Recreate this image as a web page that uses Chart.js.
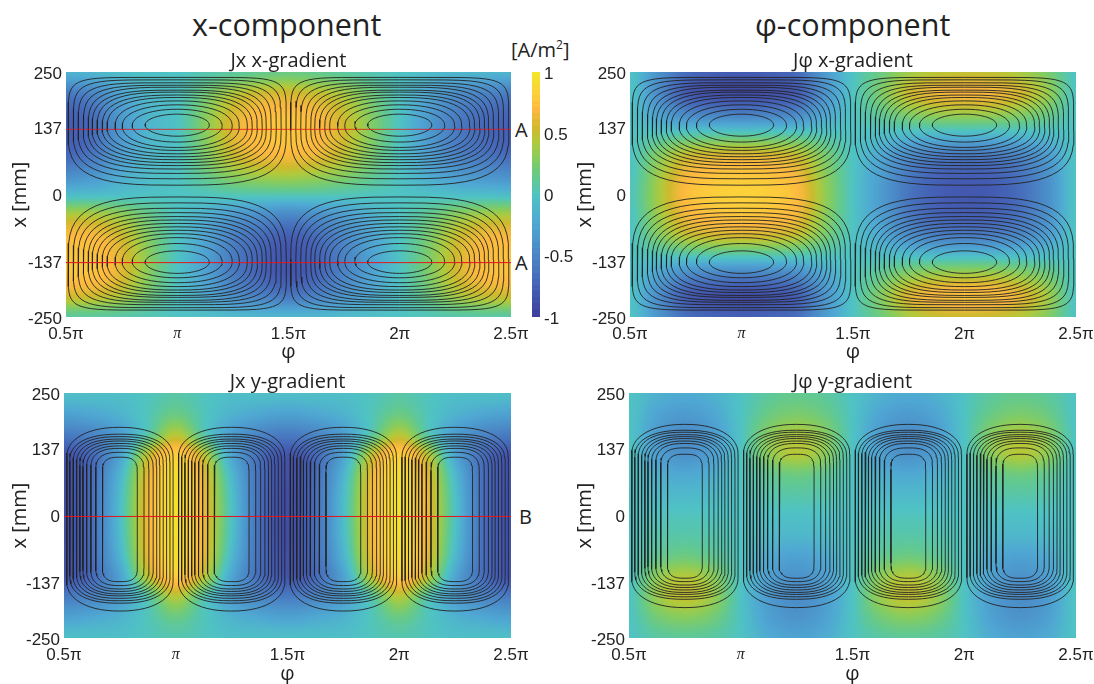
<!DOCTYPE html>
<html><head><meta charset="utf-8">
<script src="https://cdn.jsdelivr.net/npm/chart.js@4"></script>
<style>
html,body{margin:0;padding:0;background:#fff;width:1094px;height:684px;overflow:hidden}
canvas{position:absolute}
.t{position:absolute;font-family:"Open Sans",sans-serif;color:#222;white-space:nowrap;line-height:1}
sup{font-size:.6em;line-height:0}
</style></head><body>
<div class="t" style="left:192px;top:9px;font-size:30.5px">x-component</div>
<div class="t" style="left:755px;top:9px;font-size:30.5px">φ-component</div>
<div class="t" style="left:511px;top:40px;font-size:20px">[A/m<sup>2</sup>]</div>
<div class="t" style="left:515px;top:120px;font-size:20px">A</div>
<div class="t" style="left:515px;top:253px;font-size:20px">A</div>
<div class="t" style="left:519px;top:507px;font-size:20px">B</div>
<canvas id="c1"></canvas><canvas id="c2"></canvas><canvas id="c3"></canvas><canvas id="c4"></canvas><canvas id="cb"></canvas>
<script>
// ---- tick labels / nodes (x in units of pi, y in mm)
const phiTicks = [0.5, 1, 1.5, 2, 2.5];
const yTicks = [250, 137, 0, -137, -250];
const barTicks = [1, 0.5, 0, -0.5, -1];
const xNodes = [0.5,0.625,0.75,0.875,1,1.125,1.25,1.375,1.5,1.625,1.75,1.875,2,2.125,2.25,2.375,2.5];
const yNodes = [250,208.3,166.7,125,83.3,41.7,0,-41.7,-83.3,-125,-166.7,-208.3,-250];

// ---- field values [A/m^2], rows top (x=250) to bottom (x=-250), columns 0.5pi to 2.5pi
const jxXGrad = [
[-.12,-.1,-.05,-.02,0,.05,.1,.15,.18,.15,.1,.05,0,-.05,-.1,-.1,-.12],
[-.55,-.46,-.22,-.07,0,.21,.42,.53,.55,.5,.39,.2,0,-.21,-.39,-.48,-.53],
[-.74,-.62,-.3,-.1,0,.29,.57,.71,.74,.68,.52,.27,0,-.29,-.52,-.65,-.71],
[-.78,-.65,-.32,-.1,0,.3,.6,.75,.78,.72,.55,.28,0,-.3,-.55,-.68,-.75],
[-.7,-.59,-.29,-.09,0,.27,.54,.68,.7,.65,.5,.25,0,-.27,-.5,-.61,-.68],
[-.44,-.36,-.18,-.06,0,.17,.34,.42,.44,.4,.31,.16,0,-.17,-.31,-.38,-.42],
[-.06,-.05,-.03,-.01,0,.02,.05,.06,.06,.06,.04,.02,0,-.02,-.04,-.05,-.06],
[.44,.43,.34,.17,0,-.14,-.31,-.4,-.46,-.4,-.28,-.14,0,.14,.31,.4,.42],
[.7,.68,.54,.27,0,-.23,-.5,-.65,-.74,-.65,-.45,-.23,0,.23,.5,.65,.68],
[.78,.76,.6,.3,0,-.25,-.55,-.72,-.82,-.72,-.5,-.25,0,.25,.55,.72,.75],
[.76,.74,.59,.29,0,-.25,-.54,-.71,-.8,-.71,-.49,-.25,0,.25,.54,.71,.74],
[.55,.53,.42,.21,0,-.18,-.39,-.5,-.57,-.5,-.35,-.18,0,.18,.39,.5,.53],
[.1,.1,.08,.04,0,-.03,-.07,-.09,-.1,-.09,-.06,-.03,0,.03,.07,.09,.09]];
const jpXGrad = [
[0,-.37,-.66,-.75,-.78,-.75,-.66,-.32,0,.19,.38,.47,.5,.49,.41,.25,0],
[0,-.42,-.77,-.86,-.9,-.86,-.77,-.37,0,.26,.53,.66,.7,.68,.57,.35,0],
[0,-.26,-.47,-.53,-.55,-.53,-.47,-.23,0,.15,.3,.38,.4,.39,.32,.2,0],
[0,.02,.04,.05,.05,.05,.04,.02,0,-.02,-.04,-.05,-.05,-.05,-.04,-.03,0],
[0,.27,.49,.56,.58,.56,.49,.24,0,-.2,-.41,-.52,-.55,-.53,-.45,-.28,0],
[0,.37,.66,.75,.78,.75,.66,.32,0,-.28,-.56,-.71,-.75,-.73,-.61,-.38,0],
[.02,.4,.72,.82,.85,.82,.72,.35,0,-.3,-.6,-.75,-.8,-.78,-.65,-.4,0],
[0,.37,.66,.75,.78,.75,.66,.32,0,-.28,-.56,-.71,-.75,-.73,-.61,-.38,0],
[0,.27,.49,.56,.58,.56,.49,.24,0,-.2,-.41,-.52,-.55,-.53,-.45,-.28,0],
[0,.02,.04,.05,.05,.05,.04,.02,0,-.02,-.04,-.05,-.05,-.05,-.04,-.03,0],
[0,-.26,-.47,-.53,-.55,-.53,-.47,-.23,0,.17,.34,.42,.45,.44,.36,.23,0],
[0,-.41,-.75,-.84,-.88,-.84,-.75,-.36,0,.29,.59,.73,.78,.76,.63,.39,0],
[0,-.35,-.64,-.72,-.75,-.72,-.64,-.31,0,.2,.41,.52,.55,.53,.45,.28,0]];
const jxYGrad = [
[-.03,-.03,-.03,.02,.08,.02,-.03,-.03,-.03,-.03,-.03,.02,.08,.02,-.03,-.03,-.03],
[-.25,-.2,-.12,.03,.18,.03,-.12,-.2,-.25,-.2,-.12,.03,.18,.03,-.12,-.2,-.25],
[-.55,-.48,-.28,.08,.45,.08,-.28,-.48,-.55,-.48,-.28,.08,.45,.08,-.28,-.48,-.55],
[-.82,-.68,-.25,.48,.82,.48,-.22,-.65,-.82,-.68,-.25,.48,.82,.48,-.22,-.65,-.82],
[-.86,-.66,-.12,.62,.93,.62,-.08,-.65,-.86,-.66,-.12,.62,.93,.62,-.08,-.65,-.84],
[-.88,-.65,-.06,.65,.95,.65,-.02,-.65,-.88,-.65,-.06,.65,.95,.65,-.02,-.65,-.85],
[-.88,-.65,-.05,.66,.95,.65,0,-.65,-.88,-.65,-.05,.66,.95,.65,0,-.65,-.85],
[-.88,-.65,-.06,.65,.95,.65,-.02,-.65,-.88,-.65,-.06,.65,.95,.65,-.02,-.65,-.85],
[-.86,-.66,-.12,.62,.93,.62,-.08,-.65,-.86,-.66,-.12,.62,.93,.62,-.08,-.65,-.84],
[-.82,-.68,-.25,.48,.82,.48,-.22,-.65,-.82,-.68,-.25,.48,.82,.48,-.22,-.65,-.82],
[-.55,-.48,-.28,.08,.45,.08,-.28,-.48,-.55,-.48,-.28,.08,.45,.08,-.28,-.48,-.55],
[-.25,-.2,-.12,.03,.18,.03,-.12,-.2,-.25,-.2,-.12,.03,.18,.03,-.12,-.2,-.25],
[-.03,-.03,-.03,.02,.06,.02,-.03,-.03,-.03,-.03,-.03,.02,.06,.02,-.03,-.03,-.03]];
const jpYGrad = [
[0,-.13,-.18,-.13,0,.11,.15,.11,0,-.13,-.18,-.13,0,.11,.15,.11,0],
[0,-.22,-.3,-.22,0,.18,.25,.18,0,-.22,-.3,-.22,0,.18,.25,.18,0],
[0,-.3,-.42,-.3,0,.3,.42,.3,0,-.3,-.42,-.3,0,.3,.42,.3,0],
[0,-.27,-.38,-.27,0,.32,.45,.32,0,-.27,-.38,-.27,0,.32,.45,.32,0],
[0,-.14,-.2,-.14,0,.14,.2,.14,0,-.14,-.2,-.14,0,.14,.2,.14,0],
[0,-.06,-.08,-.06,0,.06,.08,.06,0,-.06,-.08,-.06,0,.06,.08,.06,0],
[0,.01,.02,.01,0,-.01,-.02,-.01,0,.01,.02,.01,0,-.01,-.02,-.01,0],
[0,.06,.08,.06,0,-.07,-.1,-.07,0,.06,.08,.06,0,-.07,-.1,-.07,0],
[0,.14,.2,.14,0,-.18,-.25,-.18,0,.14,.2,.14,0,-.18,-.25,-.18,0],
[0,.32,.45,.32,0,-.27,-.38,-.27,0,.32,.45,.32,0,-.27,-.38,-.27,0],
[0,.36,.5,.36,0,-.3,-.42,-.3,0,.36,.5,.36,0,-.3,-.42,-.3,0],
[0,.22,.3,.22,0,-.26,-.36,-.26,0,.22,.3,.22,0,-.26,-.36,-.26,0],
[0,.09,.12,.09,0,-.18,-.25,-.18,0,.09,.12,.09,0,-.18,-.25,-.18,0]];
const barLevels = [-1,-.95,-.9,-.85,-.8,-.75,-.7,-.65,-.6,-.55,-.5,-.45,-.4,-.35,-.3,-.25,-.2,-.15,-.1,-.05,0,.05,.1,.15,.2,.25,.3,.35,.4,.45,.5,.55,.6,.65,.7,.75,.8,.85,.9,.95,1];

// ---- x-gradient coil contours, outer to inner level (half width in pi, edges in mm, corner squareness)
const xCoilCentres = [1, 2];
const xCoilHalfWidth = [.49,.467,.445,.422,.4,.382,.36,.337,.315,.279,.247,.202,.144];
const xUpperTop = [239,234,228,223,219,213,209,203,198,191,183,174,164];
const xUpperMid = [130,131,132,133,134,135,136,137,138,139,140,141,142];
const xUpperBottom = [19,32,43,52,59,65,71,77,83,90,96,107,119];
const xLowerTop = [-5,-17,-28,-37,-45,-52,-59,-66,-73,-80,-88,-100,-115];
const xLowerMid = [-132,-132,-133,-133,-134,-134,-135,-135,-136,-136,-137,-137,-138];
const xLowerBottom = [-236,-231,-225,-220,-216,-210,-206,-200,-195,-188,-180,-170,-161];
const xDenseSquare = [7,5.5,4.6,4,3.5,3.2,3,2.8,2.6,2.4,2.2,2.1,2];
const xLooseSquare = [3.2,3.1,3,2.9,2.8,2.7,2.6,2.5,2.4,2.3,2.2,2.1,2];
// ---- y-gradient coil contours
const yCoilCentres = [.75, 1.25, 1.75, 2.25];
const yCoilHalfWidth = [.238,.224,.209,.194,.179,.165,.149,.13,.108,.078];
const yCoilEndHeight = [61,55,53,51,49,47,45,41,37,31];
const yCoilSquare = [2.2,2.4,2.5,2.5,2.5,2.5,2.5,2.6,2.7,3];
const jxYTop = [180,166,161,156,152,147,142,137,129,119];
const jxYBottom = [-195,-179,-174,-169,-164,-160,-155,-150,-143,-135];
const jpYTop = [186,174,170,165,161,157,152,147,138,125];
const jpYBottom = [-188,-171,-166,-161,-157,-152,-147,-142,-135,-128];
// ---- profile lines
const lineA1 = 133, lineA2 = -139, lineB = -2;

// ---- colour map
const mapV = [-1,-.75,-.5,-.2,0,.15,.3,.45,.55,.7,.85,1];
const mapC = [[63,61,156],[68,96,181],[74,132,197],[79,169,211],[79,195,196],[99,201,143],[134,204,95],[180,201,58],[207,185,47],[253,185,63],[252,210,58],[242,229,42]];
function colour(v){
  v=Math.max(-1,Math.min(1,v));
  let k=0; while(k<mapV.length-2&&v>mapV[k+1])k++;
  const f=(v-mapV[k])/(mapV[k+1]-mapV[k]);
  return [0,1,2].map(c=>mapC[k][c]+(mapC[k+1][c]-mapC[k][c])*f);
}
function cr(a,b,c,d,t){return b+0.5*t*(c-a+t*(2*a-5*b+4*c-d+t*(3*(b-c)+d-a)));}
function sample(g,fx,fy){
  const R=g.length,C=g[0].length,i=Math.floor(fx),j=Math.floor(fy),tx=fx-i,ty=fy-j;
  const at=(r,c)=>g[Math.max(0,Math.min(R-1,r))][Math.max(0,Math.min(C-1,c))];
  const row=r=>cr(at(r,i-1),at(r,i),at(r,i+1),at(r,i+2),tx);
  return cr(row(j-1),row(j),row(j+1),row(j+2),ty);
}
// a cell's picture: one grid node rendered as a small smooth tile
function tile(chart,grid,idx){
  const C=grid[0].length,r=Math.floor(idx/C),c=idx%C;
  const sx=chart.scales.x,sy=chart.scales.y;
  const dx=Math.abs(sx.getPixelForValue(xNodes[1])-sx.getPixelForValue(xNodes[0]));
  const dy=Math.abs(sy.getPixelForValue(yNodes[1])-sy.getPixelForValue(yNodes[0]));
  const W=Math.ceil(dx)+2,H=Math.ceil(dy)+2;
  const cv=document.createElement('canvas');cv.width=W;cv.height=H;
  const g=cv.getContext('2d'),im=g.createImageData(W,H);
  for(let py=0;py<H;py++)for(let px=0;px<W;px++){
    const v=sample(grid,c+(px+.5-W/2)/dx,r+(py+.5-H/2)/dy),col=colour(v),o=(py*W+px)*4;
    im.data[o]=col[0];im.data[o+1]=col[1];im.data[o+2]=col[2];im.data[o+3]=255;
  }
  g.putImageData(im,0,0);return cv;
}
function cellDataset(grid){
  const cache={};
  const data=[];
  yNodes.forEach((y,r)=>xNodes.forEach((x,c)=>data.push({x,y,v:grid[r][c]})));
  return {type:'scatter',data,order:10,clip:0,pointRadius:16,pointBorderWidth:0,showLine:false,
    pointStyle:ctx=>{
      if(ctx.dataIndex===undefined||!ctx.chart.chartArea)return 'rect';
      return cache[ctx.dataIndex]||(cache[ctx.dataIndex]=tile(ctx.chart,grid,ctx.dataIndex));
    }};
}
// closed contour: rounded upper and lower caps joined at midT / midB
function loop(cx,hw,top,midT,midB,bottom,nT,nB){
  const pts=[],n=28;
  const cap=(oy,ry,e,a0,a1)=>{for(let k=0;k<=n;k++){const a=a0+k/n*(a1-a0),c=Math.cos(a),s=Math.sin(a);
    pts.push({x:cx+hw*Math.sign(c)*Math.pow(Math.abs(c),2/e),y:oy+ry*Math.sign(s)*Math.pow(Math.abs(s),2/e)});}};
  cap(midT,top-midT,nT,0,Math.PI);
  cap(midB,midB-bottom,nB,Math.PI,Math.PI*2);
  pts.push(pts[0]);
  return {type:'scatter',showLine:true,data:pts,borderColor:'#222',borderWidth:.9,pointRadius:0,order:1,clip:0,borderJoinStyle:'round'};
}
function xLoops(){
  const out=[];
  xCoilCentres.forEach(c=>xCoilHalfWidth.forEach((hw,i)=>{
    out.push(loop(c,hw,xUpperTop[i],xUpperMid[i],xUpperMid[i],xUpperBottom[i],xDenseSquare[i],xLooseSquare[i]));
    out.push(loop(c,hw,xLowerTop[i],xLowerMid[i],xLowerMid[i],xLowerBottom[i],xLooseSquare[i],xDenseSquare[i]));
  }));
  return out;
}
function yLoops(tops,bottoms){
  const out=[];
  yCoilCentres.forEach(c=>yCoilHalfWidth.forEach((hw,i)=>out.push(
    loop(c,hw,tops[i],tops[i]-yCoilEndHeight[i],bottoms[i]+yCoilEndHeight[i],bottoms[i],yCoilSquare[i],yCoilSquare[i]))));
  return out;
}
function redLine(y,w){
  return {type:'scatter',showLine:true,data:[{x:.5,y},{x:2.5,y}],borderColor:'#e3171b',borderWidth:w,pointRadius:0,order:0,clip:0};
}
const piLabel=v=>v===1?'π':v+'π';
function panel(id,box,title,datasets){
  const cv=document.getElementById(id);
  cv.style.left=box.left+'px';cv.style.top=box.top+'px';
  cv.width=box.w;cv.height=box.h;
  return new Chart(cv,{
    data:{datasets},
    options:{responsive:false,animation:false,events:[],
      layout:{autoPadding:false,padding:{left:0,top:0,bottom:0,right:box.right}},
      plugins:{legend:{display:false},tooltip:{enabled:false},
        title:{display:true,fullSize:false,text:title,color:'#222',padding:{top:0,bottom:.4},font:{family:'"Open Sans"',size:20,weight:'normal',lineHeight:1.08}}},
      scales:{
        x:{type:'linear',min:.5,max:2.5,grid:{display:false,drawTicks:false},border:{display:false},
          afterBuildTicks:s=>{s.ticks=phiTicks.map(value=>({value}));},
          afterFit:s=>{s.height=box.xh;s.paddingLeft=0;s.paddingRight=0;},
          ticks:{autoSkip:false,maxRotation:0,padding:7,color:'#222',callback:piLabel,
            font:c=>c.tick&&c.tick.value===1?{family:'"Liberation Serif"',size:16,style:'italic'}:{family:'"Liberation Sans"',size:17}},
          title:{display:true,text:'φ',color:'#222',padding:{top:box.xp,bottom:box.xp},font:{family:'"Open Sans"',size:20,lineHeight:1.2}}},
        y:{type:'linear',min:-250,max:250,grid:{display:false,drawTicks:false},border:{display:false},
          afterBuildTicks:s=>{s.ticks=yTicks.map(value=>({value}));},
          afterFit:s=>{s.width=box.yw;s.paddingTop=0;s.paddingBottom=0;},
          ticks:{autoSkip:false,padding:4,labelOffset:2,color:'#222',callback:v=>String(v),font:{family:'"Liberation Sans"',size:17}},
          title:{display:true,text:'x [mm]',color:'#222',padding:{top:box.yp,bottom:box.yp},font:{family:'"Open Sans"',size:20,lineHeight:1.2}}}
      }}
  });
}
panel('c1',{left:0,top:50,w:541,h:315,right:30,xh:48,yw:66,xp:1,yp:8},'Jx x-gradient',
  [cellDataset(jxXGrad),...xLoops(),redLine(lineA1,.8),redLine(lineA2,1)]);
panel('c2',{left:570,top:50,w:524,h:315,right:18,xh:48,yw:60,xp:1,yp:3},'Jφ x-gradient',
  [cellDataset(jpXGrad),...xLoops()]);
panel('c3',{left:0,top:371,w:541,h:315,right:30,xh:48,yw:64,xp:0,yp:8},'Jx y-gradient',
  [cellDataset(jxYGrad),...yLoops(jxYTop,jxYBottom),redLine(lineB,1)]);
panel('c4',{left:570,top:371,w:524,h:315,right:18,xh:48,yw:59,xp:0,yp:3},'Jφ y-gradient',
  [cellDataset(jpYGrad),...yLoops(jpYTop,jpYBottom)]);

// ---- colour bar
(function(){
  const cv=document.getElementById('cb');
  cv.style.left='525px';cv.style.top='62px';cv.width=60;cv.height=265;
  const tileFor=v=>{
    const c=document.createElement('canvas');c.width=10;c.height=9;
    const g=c.getContext('2d'),col=colour(v);
    g.fillStyle='rgb('+col.map(Math.round).join(',')+')';g.fillRect(0,0,10,9);return c;
  };
  new Chart(cv,{
    data:{datasets:[{type:'scatter',data:barLevels.map(v=>({x:.5,y:v})),clip:0,pointRadius:5,pointBorderWidth:0,
      pointStyle:ctx=>ctx.dataIndex===undefined?'rect':tileFor(barLevels[ctx.dataIndex])}]},
    options:{responsive:false,animation:false,events:[],
      layout:{autoPadding:false,padding:{left:7,top:10,bottom:10,right:0}},
      plugins:{legend:{display:false},tooltip:{enabled:false}},
      scales:{
        x:{type:'linear',display:false,min:0,max:1},
        y:{type:'linear',position:'right',min:-1,max:1,grid:{display:false,drawTicks:false},border:{display:false},
          afterBuildTicks:s=>{s.ticks=barTicks.map(value=>({value}));},
          afterFit:s=>{s.width=45;s.paddingTop=0;s.paddingBottom=0;},
          ticks:{autoSkip:false,padding:4,labelOffset:2,color:'#222',callback:v=>String(v),font:{family:'"Liberation Sans"',size:17}}}
      }}
  });
})();
</script>
</body></html>
